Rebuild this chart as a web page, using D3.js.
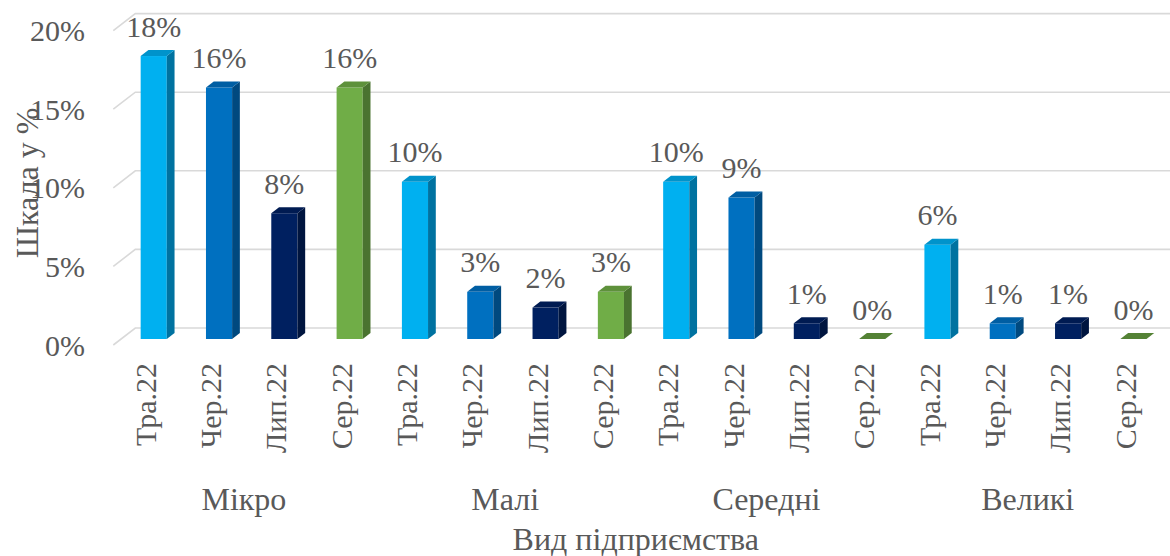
<!DOCTYPE html>
<html>
<head>
<meta charset="utf-8">
<script src="https://cdn.jsdelivr.net/npm/d3@7"></script>
<style>
  html, body { margin: 0; padding: 0; background: #ffffff; }
  svg { display: block; }
</style>
</head>
<body>
<svg id="chart" width="1170" height="556" font-family="'Liberation Serif', 'Times New Roman', Times, serif"></svg>
<script>
// ---- data ----
const months = ["Тра.22", "Чер.22", "Лип.22", "Сер.22"];
const groups = ["Мікро", "Малі", "Середні", "Великі"];
const mikro   = [18, 16, 8, 16];
const mali    = [10, 3, 2, 3];
const seredni = [10, 9, 1, 0];
const veliki  = [6, 1, 1, 0];
const yTicks = [0, 5, 10, 15, 20];
const yTitle = "Шкала у %";
const xTitle = "Вид підприємства";

const seriesValues = [mikro, mali, seredni, veliki];
const rows = [];
groups.forEach((g, gi) => months.forEach((m, mi) => rows.push({ group: g, gi, month: m, mi, value: seriesValues[gi][mi] })));

// ---- styles ----
const faceColors = [
  { front: "#00B0F0", side: "#0072A0", top: "#0093CB" },
  { front: "#0070C0", side: "#00497F", top: "#005EA3" },
  { front: "#002060", side: "#00153F", top: "#001B52" },
  { front: "#70AD47", side: "#4A7330", top: "#5E913B" }
];
const zeroTop = ["#0093CB", "#005EA3", "#001B52", "#548235"];
const TEXT = "#595959";
const FONT = "'Liberation Serif', 'Times New Roman', Times, serif";

const W = 1170, H = 556;
const DX = 22, DY = 17;          // oblique depth offset (front floor edge -> back wall)
const zf = 6 / 17, zb = 12 / 17; // bar front / back depth

const svg = d3.select("#chart");

const x = d3.scaleBand().domain(d3.range(rows.length)).range([113.3, 1158.3]).paddingInner(0.6).paddingOuter(0.3);
const y = d3.scaleLinear().domain([0, 20]).range([345, 345 - 314.4]);
const proj = (X, v, z) => [X + z * DX, y(v) - z * DY];

function txt(sel) {
  return sel.attr("font-family", FONT).attr("fill", TEXT);
}

// ---- gridlines (left wall diagonal + back wall) ----
const x0 = x.range()[0];
const grid = svg.append("g");
yTicks.forEach(t => {
  const a = proj(x0, t, 0), b = proj(x0, t, 1);
  grid.append("polyline")
    .attr("points", [a, b, [W + 5, b[1]]].map(p => p.join(",")).join(" "))
    .attr("fill", "none").attr("stroke", "#D9D9D9").attr("stroke-width", 1.6);
});

// ---- y tick labels ----
svg.append("g").selectAll("text").data(yTicks).join("text")
  .call(txt)
  .attr("x", 85).attr("y", d => y(d)).attr("dy", "0.35em")
  .attr("text-anchor", "end").attr("font-size", 30)
  .text(d => d + "%");

// ---- bars ----
const bars = svg.append("g");
const labels = svg.append("g");
rows.forEach((d, i) => {
  const c = faceColors[d.mi];
  const L = x(i), R = x(i) + x.bandwidth();
  const pts = arr => arr.map(p => p.join(",")).join(" ");
  if (d.value > 0) {
    const fTL = proj(L, d.value, zf), fBR = proj(R, 0, zf);
    bars.append("rect")
      .attr("x", fTL[0]).attr("y", fTL[1])
      .attr("width", fBR[0] - fTL[0]).attr("height", fBR[1] - fTL[1])
      .attr("fill", c.front);
    bars.append("polygon")
      .attr("points", pts([proj(R, 0, zf), proj(R, d.value, zf), proj(R, d.value, zb), proj(R, 0, zb)]))
      .attr("fill", c.side);
    bars.append("polygon")
      .attr("points", pts([proj(L, d.value, zf), proj(R, d.value, zf), proj(R, d.value, zb), proj(L, d.value, zb)]))
      .attr("fill", c.top);
  } else {
    bars.append("polygon")
      .attr("points", pts([proj(L, 0, zf), proj(R, 0, zf), proj(R, 0, zb), proj(L, 0, zb)]))
      .attr("fill", zeroTop[d.mi]);
  }
  // data label
  const cx = (L + R) / 2 + zf * DX;
  labels.append("text").call(txt)
    .attr("x", cx).attr("y", proj(L, d.value, zf)[1] - 19.5)
    .attr("text-anchor", "middle").attr("font-size", 30)
    .text(d.value + "%");
});

// ---- category labels (rotated) ----
svg.append("g").selectAll("text").data(rows).join("text")
  .call(txt)
  .attr("transform", (d, i) => `translate(${x(i) + x.bandwidth() / 2},363) rotate(-90)`)
  .attr("dy", "0.33em").attr("text-anchor", "end").attr("font-size", 30)
  .text(d => d.month);

// ---- group labels ----
svg.append("g").selectAll("text").data(groups).join("text")
  .call(txt)
  .attr("x", (g, gi) => {
    const first = gi * months.length, last = first + months.length - 1;
    return (x(first) + x(last) + x.bandwidth()) / 2;
  })
  .attr("y", 510).attr("text-anchor", "middle").attr("font-size", 32)
  .text(d => d);

// ---- axis titles ----
svg.append("text").call(txt)
  .attr("x", (x.range()[0] + x.range()[1]) / 2).attr("y", 550)
  .attr("text-anchor", "middle").attr("font-size", 32)
  .text(xTitle);

svg.append("text").call(txt)
  .attr("transform", "translate(38,183) rotate(-90)")
  .attr("text-anchor", "middle").attr("font-size", 32)
  .text(yTitle);
</script>
</body>
</html>
